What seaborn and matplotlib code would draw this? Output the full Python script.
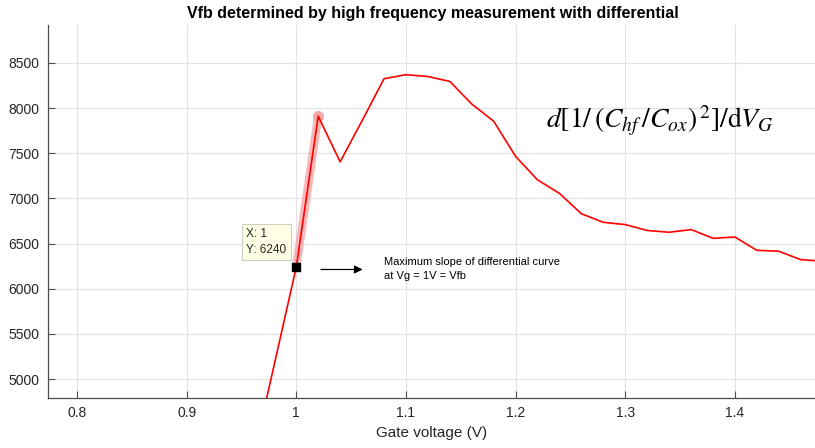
import numpy as np
import pandas as pd
import matplotlib
matplotlib.use("Agg")
import matplotlib.pyplot as plt
import seaborn as sns

gate_voltage = [0.96, 0.98, 1.00, 1.02, 1.04, 1.06, 1.08, 1.10, 1.12, 1.14, 1.16, 1.18,
                1.20, 1.22, 1.24, 1.26, 1.28, 1.30, 1.32, 1.34, 1.36, 1.38, 1.40, 1.42,
                1.44, 1.46, 1.48]
derivative = [4090, 5165, 6240, 7910, 7405, 7860, 8325, 8370, 8350, 8295, 8045, 7855,
              7465, 7205, 7055, 6830, 6735, 6710, 6645, 6625, 6655, 6558, 6572, 6425,
              6415, 6322, 6305]
x_ticks = [0.8, 0.9, 1.0, 1.1, 1.2, 1.3, 1.4]
x_tick_labels = ["0.8", "0.9", "1", "1.1", "1.2", "1.3", "1.4"]
y_ticks = [5000, 5500, 6000, 6500, 7000, 7500, 8000, 8500]
tip_x, tip_y = 1.0, 6240

df = pd.DataFrame({"Vg": gate_voltage, "dval": derivative})

sns.set_theme(style="white")
plt.rcParams['font.family'] = ['Liberation Sans', 'DejaVu Sans']
plt.rcParams['mathtext.fontset'] = 'stix'

fig = plt.figure(figsize=(8.15, 4.48), dpi=100)
ax = fig.add_axes([48/815, 50/448, (815-48)/815, 373/448])

# highlighted segment (brushed)
hl = df[(df.Vg >= 1.0) & (df.Vg <= 1.02)]
ax.plot(hl.Vg, hl.dval, color="#f4a6a6", lw=6, alpha=0.8, solid_capstyle="round", zorder=2)
ax.plot([1.02], [df.loc[df.Vg.sub(1.02).abs().idxmin(), "dval"]], "o", color="#f4a6a6",
        ms=7, zorder=2)

sns.lineplot(data=df, x="Vg", y="dval", color="#ff0000", lw=1.2, ax=ax, zorder=3)

ax.plot([tip_x], [tip_y], "s", color="black", ms=6, zorder=5)

ax.set_xlim(0.7736, 1.473)
ax.set_ylim(4790, 8920)
ax.set_xticks(x_ticks)
ax.set_xticklabels(x_tick_labels)
ax.set_yticks(y_ticks)
ax.grid(True, color="#e3e3e3", lw=0.8)
for s in ["top", "right"]:
    ax.spines[s].set_visible(False)
for s in ["left", "bottom"]:
    ax.spines[s].set_color("#4d4d4d")
    ax.spines[s].set_linewidth(0.9)
ax.tick_params(direction="in", length=5, width=0.8, color="#4d4d4d",
               labelsize=10, labelcolor="#262626", bottom=True, left=True, pad=6)
ax.set_xlabel("Gate voltage (V)", fontsize=11, color="#262626", labelpad=4)
ax.set_ylabel("")
ax.set_title("Vfb determined by high frequency measurement with differential",
             fontsize=11.5, fontweight="bold", color="black", pad=5, x=(433-48)/(815-48))

ax.text(0.9545, 6360, "X: 1\nY: 6240", fontsize=8.5, color="#262626", ha="left", va="bottom",
        linespacing=1.5,
        bbox=dict(boxstyle="square,pad=0.35", fc="#ffffe6", ec="#cfcfbf", lw=0.8))

ax.annotate("", xy=(1.063, 6213), xytext=(1.020, 6213),
            arrowprops=dict(arrowstyle="-|>", color="black", lw=0.9, mutation_scale=12))
ax.text(1.080, 6220, "Maximum slope of differential curve\nat Vg = 1V = Vfb",
        fontsize=8, color="black", ha="left", va="center", linespacing=1.5)

ax.text(1.228, 7860, r"$d[1/\,(C_{hf}\,/C_{ox})^{\,2}]/\mathrm{d}V_G$", fontsize=20,
        color="black", ha="left", va="center")

fig.savefig("out.png", dpi=100)
